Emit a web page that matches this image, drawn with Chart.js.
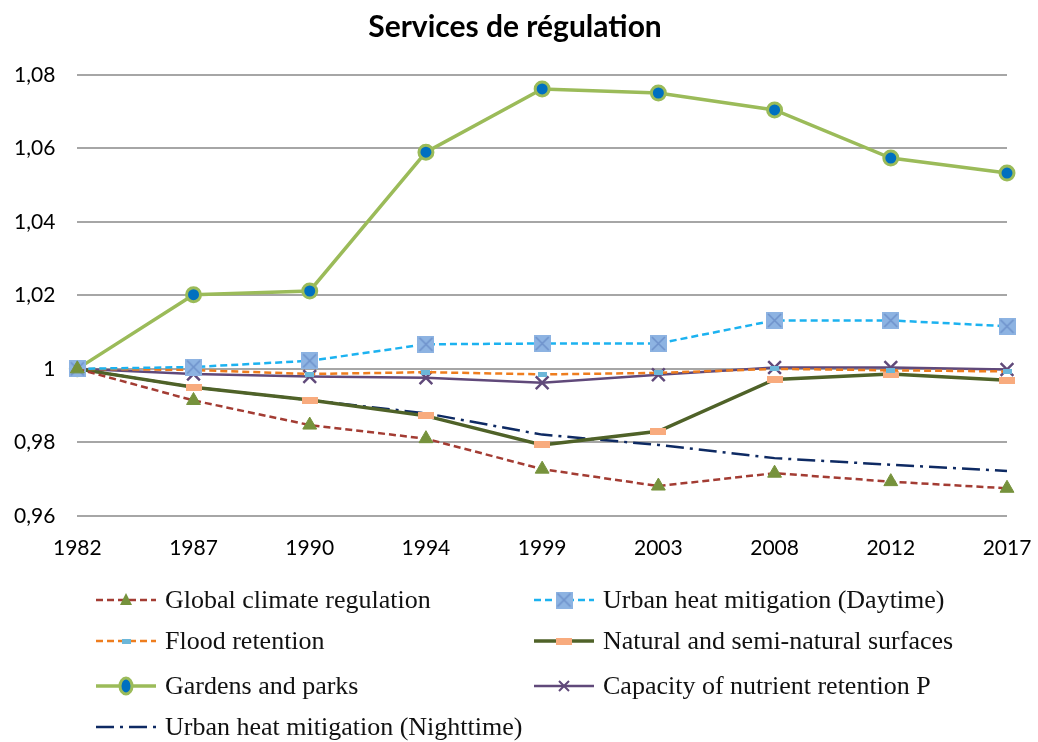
<!DOCTYPE html>
<html>
<head>
<meta charset="utf-8">
<title>Services de régulation</title>
<script src="https://cdn.jsdelivr.net/npm/chart.js@4.4.1/dist/chart.umd.min.js"></script>
<style>
  body { margin: 0; background: #fff; }
  #wrap { position: relative; width: 1038px; height: 742px; overflow: hidden; }
  #chartBox { position: absolute; left: 0; top: 0; width: 1038px; height: 573px; }
  #legend { position: absolute; left: 0; top: 0; width: 1038px; height: 742px;
            font-family: "Liberation Serif", "Times New Roman", serif; font-size: 26px; color: #111; }
  .item { position: absolute; display: flex; align-items: center; height: 30px; white-space: nowrap; }
  .item canvas { margin-right: 8px; }
</style>
</head>
<body>
<div id="wrap">
  <div id="chartBox"><canvas id="regulation-chart"></canvas></div>
  <div id="legend"></div>
</div>
<script>
// data
const years = ['1982', '1987', '1990', '1994', '1999', '2003', '2008', '2012', '2017']
const globalClimate = [1, 0.9914, 0.9847, 0.9810, 0.9727, 0.9681, 0.9716, 0.9693, 0.9675]
const urbanHeatDay = [1, 1.0005, 1.0022, 1.0067, 1.0069, 1.0069, 1.0132, 1.0132, 1.0116]
const floodRetention = [1, 0.9997, 0.9986, 0.9991, 0.9985, 0.9989, 1.0000, 0.9996, 0.9993]
const naturalSurfaces = [1, 0.9950, 0.9915, 0.9872, 0.9793, 0.9830, 0.9971, 0.9986, 0.9969]
const gardensParks = [1, 1.0202, 1.0212, 1.0590, 1.0762, 1.0751, 1.0705, 1.0574, 1.0533]
const nutrientP = [1, 0.9986, 0.9979, 0.9976, 0.9962, 0.9984, 1.0004, 1.0004, 0.9998]
const urbanHeatNight = [1, 0.9950, 0.9915, 0.9879, 0.9821, 0.9793, 0.9757, 0.9739, 0.9722]
const yTicks = [0.96, 0.98, 1, 1.02, 1.04, 1.06, 1.08]

// small canvases used as point markers
function makeMarker(w, h, draw) {
  const c = document.createElement('canvas')
  c.width = w
  c.height = h
  draw(c.getContext('2d'), w, h)
  return c
}

const squareX = makeMarker(17, 17, (ctx, w, h) => {
  ctx.fillStyle = '#8db3e2'
  ctx.fillRect(0, 0, w, h)
  ctx.strokeStyle = '#6f93cc'
  ctx.lineWidth = 1.6
  ctx.beginPath()
  ctx.moveTo(2, 2); ctx.lineTo(w - 2, h - 2)
  ctx.moveTo(w - 2, 2); ctx.lineTo(2, h - 2)
  ctx.stroke()
})
const salmonDash = makeMarker(16, 7, (ctx, w, h) => {
  ctx.fillStyle = '#f8ab7e'
  ctx.fillRect(0, 0, w, h)
})
const smallBlue = makeMarker(9, 5, (ctx, w, h) => {
  ctx.fillStyle = '#6cb7d9'
  ctx.fillRect(0, 0, w, h)
})

const datasets = [
  { label: 'Global climate regulation', data: globalClimate, borderColor: '#a33c33', borderWidth: 2.5,
    borderDash: [7, 4], pointStyle: 'triangle', pointRadius: 8, pointBackgroundColor: '#76923c',
    pointBorderColor: '#76923c', pointBorderWidth: 1 },
  { label: 'Urban heat mitigation (Daytime)', data: urbanHeatDay, borderColor: '#1cb2f0', borderWidth: 2.5,
    borderDash: [7, 4], pointStyle: squareX, pointRadius: 8 },
  { label: 'Flood retention', data: floodRetention, borderColor: '#ee7d1e', borderWidth: 2.5,
    borderDash: [7, 4], pointStyle: smallBlue, pointRadius: 4 },
  { label: 'Natural and semi-natural surfaces', data: naturalSurfaces, borderColor: '#4f6228', borderWidth: 3.5,
    pointStyle: salmonDash, pointRadius: 6 },
  { label: 'Gardens and parks', data: gardensParks, borderColor: '#9bbb59', borderWidth: 3.5,
    pointStyle: 'circle', pointRadius: 7, pointBackgroundColor: '#0070c0', pointBorderColor: '#9bbb59',
    pointBorderWidth: 3 },
  { label: 'Capacity of nutrient retention P', data: nutrientP, borderColor: '#60497a', borderWidth: 2.5,
    pointStyle: 'crossRot', pointRadius: 9, pointBorderColor: '#60497a', pointBorderWidth: 2.5 },
  { label: 'Urban heat mitigation (Nighttime)', data: urbanHeatNight, borderColor: '#0e2a63', borderWidth: 2.5,
    borderDash: [18, 6, 3, 6], pointRadius: 0 }
]

const config = {
  type: 'line',
  data: {
    labels: years,
    datasets: datasets.map(d => Object.assign({ fill: false, tension: 0 }, d))
  },
  options: {
    responsive: true,
    maintainAspectRatio: false,
    animation: false,
    layout: { padding: { left: -8, right: 0, top: 4, bottom: 0 } },
    plugins: {
      legend: { display: false },
      tooltip: { enabled: false },
      title: {
        display: true,
        text: 'Services de régulation',
        color: '#000',
        font: { family: 'Lato, "Open Sans", sans-serif', size: 30, weight: 'bold' },
        padding: { top: 5, bottom: 30 }
      }
    },
    scales: {
      x: {
        offset: false,
        grid: { display: false },
        border: { display: false },
        // keep the last year label close to the right edge, as in the original
        afterFit: (axis) => { axis.paddingRight = 31 },
        ticks: { color: '#000', padding: 12, maxRotation: 0,
                 font: { family: 'Lato, "Open Sans", sans-serif', size: 21 } }
      },
      y: {
        min: 0.96,
        max: 1.08,
        afterBuildTicks: (axis) => { axis.ticks = yTicks.map(v => ({ value: v })) },
        grid: { color: '#a6a6a6', lineWidth: 2, drawTicks: false },
        border: { display: false },
        ticks: {
          color: '#000', padding: 22,
          font: { family: 'Lato, "Open Sans", sans-serif', size: 21 },
          callback: (v) => String(Number(v.toFixed(2))).replace('.', ',')
        }
      }
    }
  }
}

const chart = new Chart(document.getElementById('regulation-chart'), config)

// legend in two columns, like the original
function drawSample(ds) {
  const c = document.createElement('canvas')
  c.width = 62
  c.height = 24
  const ctx = c.getContext('2d')
  ctx.strokeStyle = ds.borderColor
  ctx.lineWidth = ds.borderWidth
  ctx.setLineDash(ds.borderDash || [])
  ctx.beginPath()
  ctx.moveTo(1, 12)
  ctx.lineTo(61, 12)
  ctx.stroke()
  ctx.setLineDash([])
  const cx = 31, cy = 12
  const ps = ds.pointStyle
  if (ds.pointRadius === 0) return c
  if (ps instanceof HTMLCanvasElement) {
    ctx.drawImage(ps, cx - ps.width / 2, cy - ps.height / 2)
  } else if (ps === 'triangle') {
    ctx.fillStyle = ds.pointBackgroundColor
    ctx.beginPath()
    ctx.moveTo(cx, cy - 7); ctx.lineTo(cx + 6, cy + 5); ctx.lineTo(cx - 6, cy + 5)
    ctx.closePath()
    ctx.fill()
  } else if (ps === 'circle') {
    ctx.fillStyle = ds.pointBackgroundColor
    ctx.strokeStyle = ds.pointBorderColor
    ctx.lineWidth = 3
    ctx.beginPath()
    ctx.ellipse(cx, cy, 6, 8, 0, 0, Math.PI * 2)
    ctx.fill()
    ctx.stroke()
  } else if (ps === 'crossRot') {
    ctx.strokeStyle = ds.pointBorderColor
    ctx.lineWidth = 2
    ctx.beginPath()
    ctx.moveTo(cx - 5, cy - 5); ctx.lineTo(cx + 5, cy + 5)
    ctx.moveTo(cx + 5, cy - 5); ctx.lineTo(cx - 5, cy + 5)
    ctx.stroke()
  }
  return c
}

const legendBox = document.getElementById('legend')
const colX = [95, 533]
const rowY = [585, 626, 671, 712]
datasets.forEach((ds, i) => {
  const item = document.createElement('div')
  item.className = 'item'
  item.style.left = colX[i % 2] + 'px'
  item.style.top = rowY[Math.floor(i / 2)] + 'px'
  item.appendChild(drawSample(ds))
  const span = document.createElement('span')
  span.textContent = ds.label
  item.appendChild(span)
  legendBox.appendChild(item)
})
</script>
</body>
</html>
